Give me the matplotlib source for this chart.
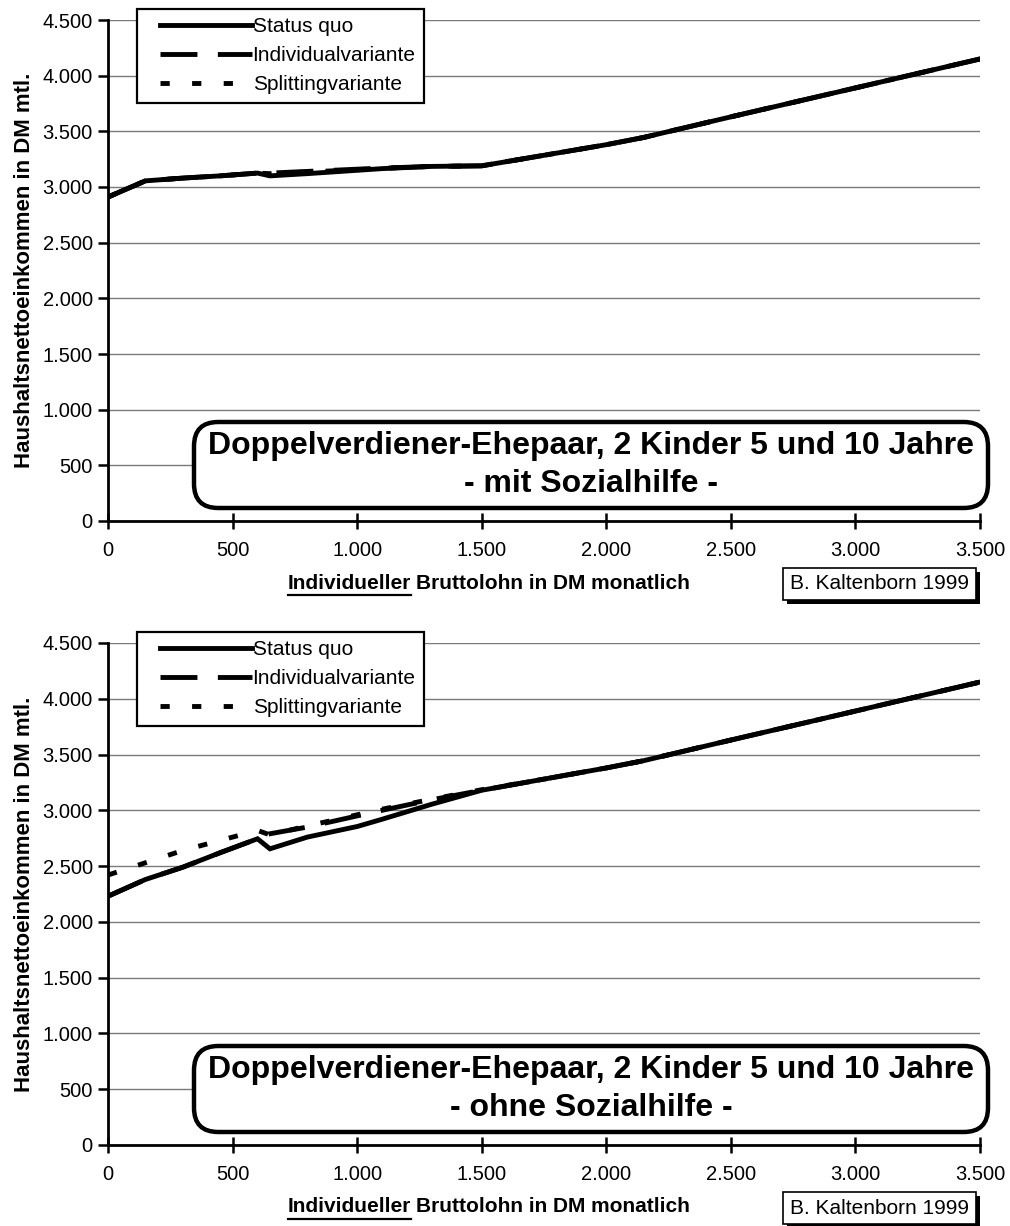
import numpy as np
import matplotlib
matplotlib.use("Agg")
import matplotlib.pyplot as plt
from matplotlib.ticker import FuncFormatter, MultipleLocator
from matplotlib.patches import FancyBboxPatch, Rectangle
from matplotlib.lines import Line2D
from matplotlib.legend_handler import HandlerLine2D

plt.rcParams['font.family'] = ['Liberation Sans', 'DejaVu Sans']

# Bruttolohn (DM monatlich)
brutto = [0, 150, 300, 450, 600, 650, 800, 1000, 1100, 1300, 1500, 1750, 2000, 2150, 2500, 3000, 3500]

# mit Sozialhilfe
mit_status = [2910, 3055, 3080, 3100, 3125, 3100, 3120, 3150, 3165, 3185, 3190, 3285, 3380, 3445, 3630, 3890, 4150]
mit_indiv = [2910, 3055, 3080, 3100, 3125, 3125, 3140, 3160, 3170, 3185, 3190, 3285, 3380, 3445, 3630, 3890, 4150]
mit_split = [2910, 3055, 3080, 3100, 3125, 3120, 3135, 3155, 3168, 3185, 3190, 3285, 3380, 3445, 3630, 3890, 4150]

# ohne Sozialhilfe
ohne_status = [2230, 2380, 2490, 2620, 2745, 2655, 2760, 2855, 2920, 3055, 3180, 3280, 3380, 3445, 3630, 3890, 4150]
ohne_indiv = [2230, 2380, 2490, 2620, 2745, 2790, 2850, 2950, 3000, 3095, 3180, 3280, 3380, 3445, 3630, 3890, 4150]
ohne_split = [2420, 2530, 2640, 2730, 2820, 2780, 2860, 2960, 3010, 3100, 3185, 3280, 3380, 3445, 3630, 3890, 4150]

series_names = ['Status quo', 'Individualvariante', 'Splittingvariante']
titel = 'Doppelverdiener-Ehepaar, 2 Kinder 5 und 10 Jahre'
untertitel = ['- mit Sozialhilfe -', '- ohne Sozialhilfe -']
ylabel = 'Haushaltsnettoeinkommen in DM mtl.'
quelle = 'B. Kaltenborn 1999'

W, H = 1010, 1226
fig = plt.figure(figsize=(W / 100, H / 100), dpi=100)


def fx(px):
    return px / W


def fy(py):
    return 1 - py / H


def de_fmt(v, pos):
    return f"{int(round(v)):,}".replace(",", ".")


def make_panel(top_px, bottom_px, status, indiv, split, sub):
    ax = fig.add_axes([fx(108), fy(bottom_px), fx(980) - fx(108), fy(top_px) - fy(bottom_px)])
    l1, = ax.plot(brutto, status, color='black', lw=3.5, solid_joinstyle='miter', label=series_names[0], zorder=3)
    l2, = ax.plot(brutto, indiv, color='black', lw=3.5, dashes=(7.6, 4.2), dash_capstyle='butt',
                  label=series_names[1], zorder=4)
    l3, = ax.plot(brutto, split, color='black', lw=3.5, dashes=(1.9, 4.6), dash_capstyle='butt',
                  label=series_names[2], zorder=5)
    ax.set_xlim(0, 3500)
    ax.set_ylim(0, 4500)
    ax.xaxis.set_major_locator(MultipleLocator(500))
    ax.yaxis.set_major_locator(MultipleLocator(500))
    ax.xaxis.set_major_formatter(FuncFormatter(de_fmt))
    ax.yaxis.set_major_formatter(FuncFormatter(de_fmt))
    ax.grid(axis='y', color='#7a7a7a', lw=1.0)
    ax.set_axisbelow(True)
    for s in ['top', 'right']:
        ax.spines[s].set_visible(False)
    for s in ['left', 'bottom']:
        ax.spines[s].set_linewidth(2)
    ax.tick_params(axis='x', direction='inout', length=11, width=1.8, labelsize=14.5, pad=9)
    ax.tick_params(axis='y', direction='out', length=7, width=1.8, labelsize=14.5, pad=4)
    ax.set_ylabel(ylabel, fontsize=16, fontweight='bold')
    ax.yaxis.set_label_coords(-0.084, 0.50)

    hm = {l: HandlerLine2D(xpad=0.7) for l in (l1, l2, l3)}
    leg = ax.legend(handles=[l1, l2, l3], handler_map=hm, loc='upper left',
                    bbox_to_anchor=(fx(137), fy(top_px - 11)), bbox_transform=fig.transFigure,
                    fontsize=15, handlelength=5.1, handletextpad=0.05, borderpad=0.4,
                    labelspacing=0.48, fancybox=False, framealpha=1, edgecolor='black',
                    borderaxespad=0)
    leg.get_frame().set_linewidth(1.6)

    # rounded title box
    off = bottom_px - 521
    bx0, bx1 = 194, 988
    by0, by1 = 422 + off, 508 + off
    box = FancyBboxPatch((fx(bx0), fy(by1)), fx(bx1) - fx(bx0), fy(by0) - fy(by1),
                         boxstyle='round,pad=0,rounding_size=0.024', transform=fig.transFigure,
                         facecolor='white', edgecolor='black', lw=3.2, zorder=10,
                         mutation_aspect=W / H)
    fig.add_artist(box)
    cx = (bx0 + bx1) / 2
    fig.text(fx(cx), fy(by0 + 24), titel, ha='center', va='center', fontsize=23,
             fontweight='bold', zorder=11)
    fig.text(fx(cx), fy(by0 + 62), sub, ha='center', va='center', fontsize=23,
             fontweight='bold', zorder=11)

    # x label with underlined first word
    ly = 583 + off
    t1 = fig.text(fx(288), fy(ly), 'Individueller', ha='left', va='center', fontsize=15, fontweight='bold')
    fig.canvas.draw()
    r = fig.canvas.get_renderer()
    bb = t1.get_window_extent(r)
    fig.text(bb.x1 / W + fx(5), fy(ly), 'Bruttolohn in DM monatlich', ha='left', va='center',
             fontsize=15, fontweight='bold')
    fig.add_artist(Line2D([bb.x0 / W, bb.x1 / W], [fy(ly + 12), fy(ly + 12)], transform=fig.transFigure,
                          color='black', lw=1.6))

    # source box with shadow
    sx0, sx1 = 783, 976
    sy0, sy1 = 568 + off, 600 + off
    fig.add_artist(Rectangle((fx(sx0 + 4), fy(sy1 + 4)), fx(sx1) - fx(sx0), fy(sy0) - fy(sy1),
                             transform=fig.transFigure, facecolor='black', edgecolor='black', lw=0))
    fig.add_artist(Rectangle((fx(sx0), fy(sy1)), fx(sx1) - fx(sx0), fy(sy0) - fy(sy1),
                             transform=fig.transFigure, facecolor='white', edgecolor='black', lw=1.2))
    fig.text(fx((sx0 + sx1) / 2), fy((sy0 + sy1) / 2), quelle, ha='center', va='center', fontsize=15)
    return ax


make_panel(20, 521, mit_status, mit_indiv, mit_split, untertitel[0])
make_panel(643, 1145, ohne_status, ohne_indiv, ohne_split, untertitel[1])

fig.savefig('out.png', dpi=100)
